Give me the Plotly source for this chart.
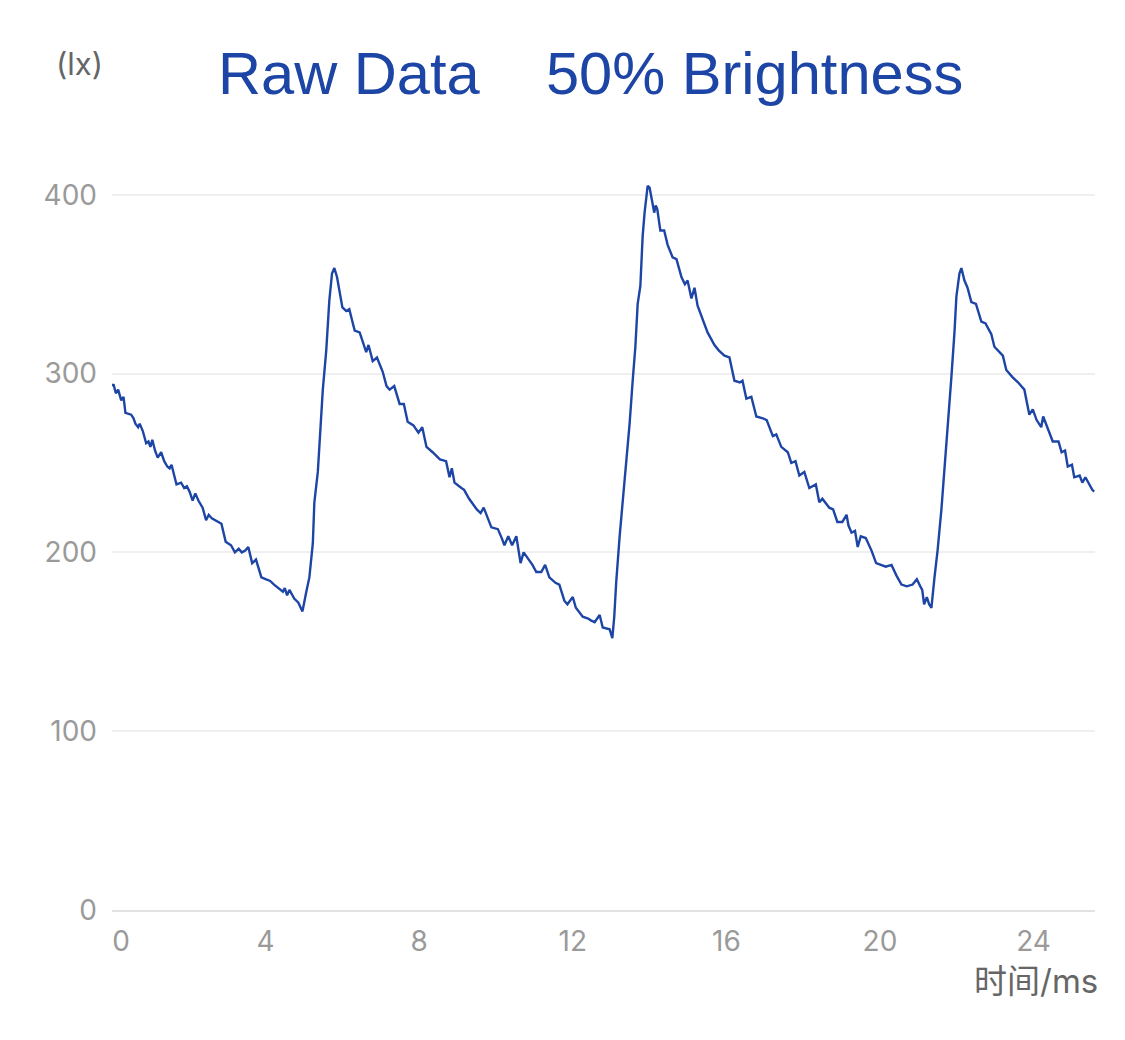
import plotly.graph_objects as go

# time (ms) and illuminance (lx)
t_ms = [
    0.00, 0.04, 0.10, 0.16, 0.24, 0.30, 0.35, 0.50, 0.56, 0.61, 0.68, 0.72, 0.80, 0.89, 0.95,
    1.00, 1.05, 1.12, 1.19, 1.28, 1.36, 1.44, 1.50, 1.55, 1.62, 1.68, 1.80, 1.88, 1.95, 2.02,
    2.10, 2.17, 2.25, 2.36, 2.45, 2.52, 2.60, 2.75, 2.85, 2.96, 3.10, 3.20, 3.30, 3.38, 3.47,
    3.55, 3.65, 3.75, 3.89, 4.00, 4.12, 4.22, 4.35, 4.45, 4.50, 4.56, 4.62, 4.75, 4.85, 4.96,
    5.06, 5.14, 5.23, 5.27, 5.36, 5.45, 5.49, 5.58, 5.66, 5.73, 5.79, 5.86, 5.92, 6.00, 6.10,
    6.18, 6.25, 6.32, 6.45, 6.55, 6.62, 6.68, 6.79, 6.90, 7.05, 7.15, 7.23, 7.35, 7.49, 7.60,
    7.70, 7.85, 7.98, 8.08, 8.19, 8.35, 8.54, 8.70, 8.79, 8.85, 8.92, 9.10, 9.17, 9.30, 9.39,
    9.50, 9.60, 9.68, 9.88, 10.05, 10.15, 10.22, 10.32, 10.42, 10.53, 10.64, 10.72, 10.85, 10.95, 11.05,
    11.18, 11.28, 11.39, 11.55, 11.65, 11.78, 11.86, 12.00, 12.08, 12.26, 12.40, 12.47, 12.57, 12.70, 12.78,
    12.96, 13.03, 13.08, 13.13, 13.22, 13.30, 13.40, 13.48, 13.56, 13.63, 13.69, 13.76, 13.82, 13.87, 13.95,
    14.00, 14.07, 14.12, 14.16, 14.20, 14.28, 14.38, 14.47, 14.60, 14.70, 14.83, 14.92, 14.99, 15.09, 15.17,
    15.25, 15.38, 15.51, 15.69, 15.80, 15.95, 16.08, 16.21, 16.35, 16.42, 16.52, 16.65, 16.78, 16.95, 17.05,
    17.21, 17.30, 17.43, 17.60, 17.69, 17.80, 17.90, 18.03, 18.16, 18.33, 18.42, 18.50, 18.68, 18.78, 18.89,
    19.02, 19.13, 19.18, 19.26, 19.35, 19.42, 19.50, 19.63, 19.78, 19.90, 20.15, 20.30, 20.43, 20.56, 20.70,
    20.85, 20.96, 21.05, 21.10, 21.15, 21.22, 21.28, 21.34, 21.42, 21.50, 21.60, 21.68, 21.76, 21.86, 21.94,
    21.99, 22.07, 22.12, 22.20, 22.28, 22.38, 22.50, 22.64, 22.75, 22.80, 22.90, 22.98, 23.12, 23.20, 23.29,
    23.45, 23.60, 23.76, 23.89, 23.98, 24.08, 24.20, 24.25, 24.41, 24.50, 24.65, 24.73, 24.82, 24.89, 25.00,
    25.06, 25.20, 25.27, 25.35, 25.45, 25.53, 25.58,
]
lux = [
    293, 294, 289, 291, 285, 287, 278, 277, 275, 272, 270, 272, 268, 261, 262,
    259, 263, 257, 253, 256, 251, 248, 247, 249, 243, 238, 239, 236, 237, 234,
    229, 233, 229, 225, 218, 221, 219, 217, 216, 206, 204, 200, 202, 200, 201,
    203, 194, 196, 186, 185, 184, 182, 180, 178, 180, 176, 179, 174, 172, 167,
    178, 186, 205, 228, 245, 275, 291, 313, 341, 356, 359, 354, 347, 337, 335,
    336, 330, 324, 323, 317, 312, 316, 307, 309, 301, 293, 291, 293, 283, 283,
    273, 271, 267, 270, 259, 256, 252, 251, 242, 247, 239, 236, 235, 230, 227,
    224, 222, 225, 214, 213, 208, 204, 209, 204, 209, 194, 200, 196, 193, 189,
    189, 193, 186, 183, 182, 173, 171, 175, 169, 164, 163, 162, 161, 165, 158,
    157, 152, 164, 183, 209, 228, 250, 272, 296, 315, 339, 349, 377, 390, 405,
    404, 396, 390, 394, 392, 380, 380, 372, 365, 364, 354, 350, 352, 342, 348,
    338, 330, 323, 316, 313, 310, 309, 296, 295, 296, 286, 287, 276, 275, 274,
    265, 266, 259, 256, 250, 251, 243, 245, 236, 238, 228, 230, 225, 224, 217,
    217, 221, 215, 211, 212, 203, 209, 208, 201, 194, 192, 193, 187, 182, 181,
    182, 185, 181, 179, 171, 175, 171, 169, 186, 201, 224, 246, 270, 298, 323,
    343, 356, 359, 352, 348, 340, 339, 329, 328, 326, 322, 315, 312, 310, 302,
    298, 295, 291, 277, 280, 274, 270, 276, 267, 262, 262, 256, 257, 248, 249,
    242, 243, 239, 242, 238, 235, 234,
]

x_ticks = [0, 4, 8, 12, 16, 20, 24]
# first label sits a little right of the axis start in the original
x_labels = ["\u20070", "4", "8", "12", "16", "20", "24"]
y_ticks = [0, 100, 200, 300, 400]

title_text = "Raw Data\u00a0\u00a0\u00a0\u00a050% Brightness"

fig = go.Figure()
fig.add_trace(go.Scatter(x=t_ms, y=lux, mode="lines",
                         line=dict(color="#1d45a6", width=2.4), showlegend=False))

# page body adds 8px, so margins are shifted by that
fig.update_layout(
    width=1125, height=1040,
    margin=dict(l=104, r=38, t=151, b=138),
    plot_bgcolor="white", paper_bgcolor="white",
    font=dict(family="Inter, Roboto, sans-serif", color="#999999", size=28),
)
fig.update_xaxes(range=[0, 25.6], tickvals=x_ticks, ticktext=x_labels, showgrid=False,
                 zeroline=False, showline=True, linecolor="#e2e2e2", linewidth=2, ticks="",
                 tickfont=dict(size=28, color="#9a9a9a"), ticklabelstandoff=5)
fig.update_yaxes(range=[0, 420], tickvals=y_ticks, showgrid=True, gridcolor="#efefef",
                 gridwidth=2, zeroline=False, showline=False, ticks="",
                 tickfont=dict(size=28, color="#9a9a9a"), ticklabelstandoff=14)

fig.add_annotation(text=title_text, xref="paper", yref="paper", x=(590 - 112) / 983,
                   y=1 + (159 - 73) / 751, xanchor="center", yanchor="middle", showarrow=False,
                   font=dict(family="Liberation Sans, Arial", size=59.6, color="#1c45a5"))
fig.add_annotation(text="(lx)", xref="paper", yref="paper", x=(79 - 112) / 983,
                   y=1 + (159 - 63) / 751, xanchor="center", yanchor="middle", showarrow=False,
                   font=dict(family="Inter, sans-serif", size=31, color="#666666"))
fig.add_annotation(text="时间/ms", xref="paper", yref="paper", x=(1100 - 112) / 983,
                   y=-(981 - 910) / 751, xanchor="right", yanchor="middle", showarrow=False,
                   font=dict(family="Inter, Noto Sans CJK SC, sans-serif", size=33, color="#666666"))

fig.write_html("out.html")
